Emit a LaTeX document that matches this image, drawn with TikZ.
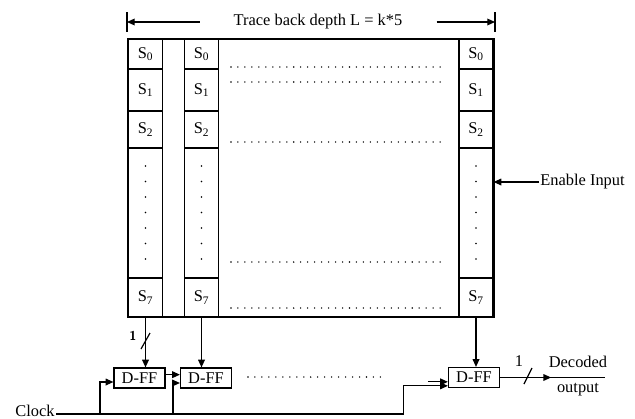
\documentclass[tikz,border=0pt]{standalone}
\usepackage{fontspec}
\setmainfont{Liberation Serif}
\usepackage{tikz}
\usetikzlibrary{arrows.meta,positioning,calc}

\begin{document}
\begin{tikzpicture}[
    x=0.03cm, y=-0.03cm,
    font=\fontsize{14}{16}\selectfont,
    cell/.style={rectangle, draw, line width=1pt, minimum width=1.02cm, inner sep=0pt},
    dff/.style={rectangle, draw, line width=1pt, minimum width=1.53cm, minimum height=0.6cm, inner sep=0pt},
    arrow/.style={-{Stealth[length=2.3mm, width=2mm, inset=0pt]}, line width=1pt},
    wire/.style={line width=1pt},
    dots/.style={line width=1.3pt, line cap=round, dash pattern=on 0pt off 5.95pt}
]
    \useasboundingbox (0,0) rectangle (635,419);

    % survivor memory
    \node [draw, line width=1pt, minimum width=10.98cm, minimum height=8.34cm, inner sep=0pt] (mem) at (311,178) {};
    \foreach \col/\xc in {a/145.5, b/201.5, c/476} {
        \node [cell, minimum height=0.9cm]  (s0\col) at (\xc,54)    {S\textsubscript{0}};
        \node [cell, minimum height=1.26cm] (s1\col) at (\xc,90)    {S\textsubscript{1}};
        \node [cell, minimum height=1.11cm] (s2\col) at (\xc,129.5) {S\textsubscript{2}};
        \node [cell, minimum height=3.9cm]  (sd\col) at (\xc,213)   {};
        \node [cell, minimum height=1.17cm] (s7\col) at (\xc,297.5) {S\textsubscript{7}};
        \foreach \yc in {166,181.5,...,259}
            \fill (\xc,\yc) circle (0.8pt);
    }
    \foreach \yc in {67,82,142,262,308}
        \draw [dots] (231,\yc) -- (443,\yc);

    % trace back depth
    \draw [wire] (127,12) -- (127,32);
    \draw [wire] (495,12) -- (495,32);
    \node [inner xsep=1.02cm, inner ysep=0pt] (depth) at (318,22) {Trace back depth L = k*5};
    \draw [arrow] (depth.west) -- (depth.west -| 127,0);
    \draw [arrow] (depth.east) -- (depth.east -| 495,0);

    % enable input
    \node [anchor=west, inner xsep=1pt] (enable) at (539,182) {Enable Input};
    \draw [arrow] (enable.west) -- (enable.west -| sdc.east);

    % flip-flops
    \node [dff] (dffa) at (139.5,378) {D-FF};
    \node [dff] (dffb) at (206,378) {D-FF};
    \node [dff] (dffc) at (474,377.5) {D-FF};
    \draw [dots] (248,377) -- (385,377);

    \draw [arrow] (s7a.south) -- (s7a.south |- dffa.north);
    \draw [arrow] (s7b.south) -- (s7b.south |- dffb.north);
    \draw [arrow] (s7c.south) -- (s7c.south |- dffc.north);
    \draw [wire] (141,349) -- (150,333);
    \node [font=\sffamily\bfseries\fontsize{11}{12}\selectfont] (wa) at (133,336) {1};

    \draw [arrow] ([yshift=0.1cm]dffa.east) -- ([yshift=0.1cm]dffb.west);
    \draw [arrow] ([xshift=-0.6cm, yshift=-0.13cm]dffc.west) -- ([yshift=-0.13cm]dffc.west);

    % clock
    \node [anchor=base east, inner xsep=1pt, inner ysep=0pt] (clk) at (56,416.5) {Clock};
    \coordinate (c0) at (56,414);
    \coordinate (j1) at (100,414);
    \coordinate (j2) at (173,414);
    \coordinate (cka) at ([yshift=-0.12cm]dffa.west);
    \coordinate (ckb) at ([yshift=-0.15cm]dffb.west);
    \coordinate (ckc) at ([yshift=-0.25cm]dffc.west);
    \draw [arrow] (c0) -| ([xshift=-1.32cm]ckc) -- (ckc);
    \draw [arrow] (j1) |- (cka);
    \draw [arrow] (j2) |- (ckb);

    % decoded output
    \coordinate (outend) at (605,376);
    \draw [wire] (dffc.east) -- (dffc.east -| outend);
    \draw [arrow] (dffc.east) -- ++(1.53cm,0);
    \draw [wire] (524,384) -- (532,368);
    \node (wo) at (519,361) {1};
    \node (dec) at (578,362) {Decoded};
    \node (outp) at (578,390) {output};
\end{tikzpicture}
\end{document}
